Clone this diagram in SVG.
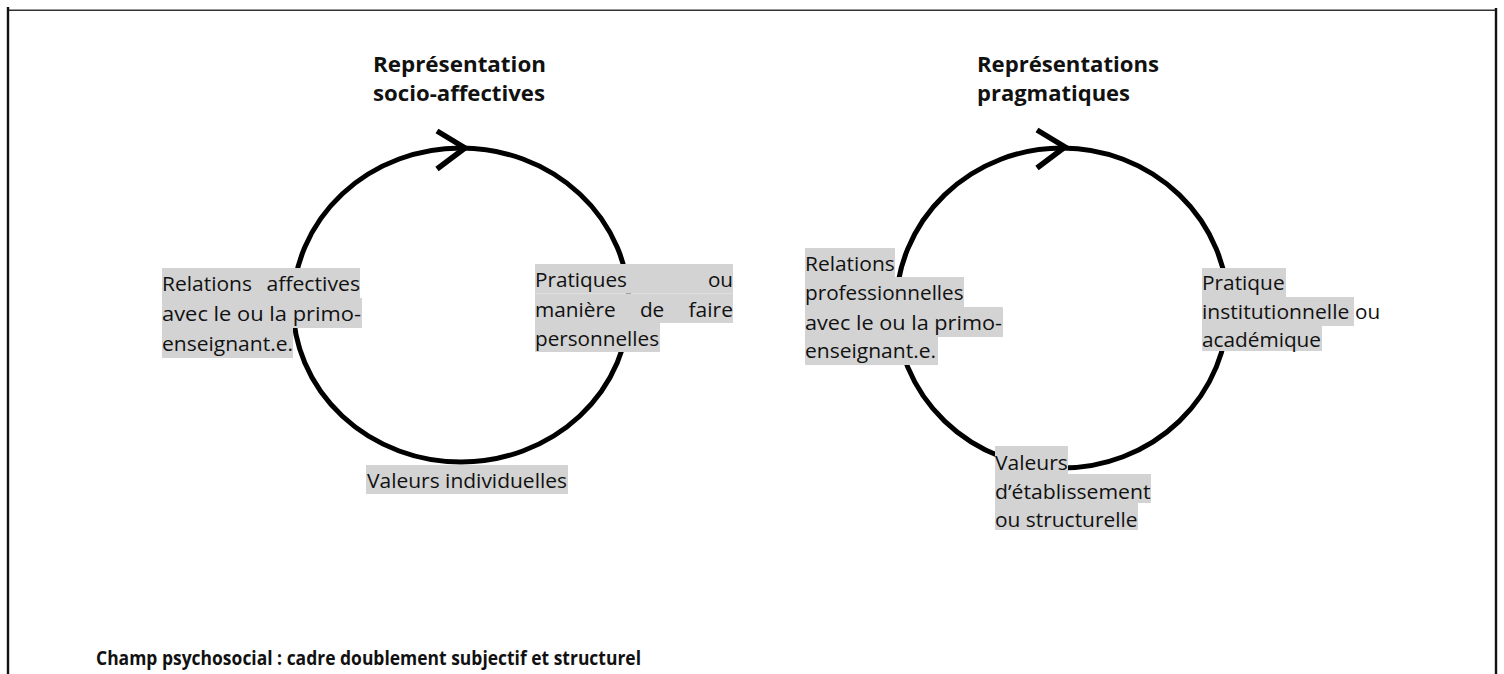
<svg xmlns="http://www.w3.org/2000/svg" width="1504" height="674" viewBox="0 0 1504 674">
<style>
.bg{fill:#ffffff}
.frame{stroke:#111;fill:none}
.cycle{fill:none;stroke:#000;stroke-width:5}
.chev{fill:none;stroke:#000;stroke-width:5.5;stroke-linejoin:miter;stroke-linecap:butt}
.hl{fill:#d3d3d3}
.lbl{font-family:"Open Sans","Liberation Sans",sans-serif;font-size:20.5px;fill:#111}
.ttl{font-family:"Open Sans","Liberation Sans",sans-serif;font-size:21.5px;font-weight:bold;fill:#111}
.foot{font-family:"Open Sans","Liberation Sans",sans-serif;font-size:20px;font-weight:bold;fill:#111}
</style>
<rect class="bg" x="0" y="0" width="1504" height="674"/>
<g id="frame">
  <line class="frame" x1="8" y1="10.2" x2="1496" y2="10.2" stroke-width="1.4" style="stroke:#333"/>
  <line class="frame" x1="8" y1="7" x2="8" y2="674" stroke-width="2.4"/>
  <line class="frame" x1="1496" y1="8" x2="1496" y2="674" stroke-width="2.4"/>
</g>
<g id="connectors">
  <ellipse class="cycle" cx="461" cy="305" rx="168" ry="157"/>
  <polyline class="chev" points="437,131 465,148 437,169"/>
  <ellipse class="cycle" cx="1062" cy="308" rx="166" ry="160"/>
  <polyline class="chev" points="1037,130 1065,147 1037,168"/>
</g>
<g id="title-socio-affectives">
  <text class="ttl" x="373" y="72" textLength="173" lengthAdjust="spacingAndGlyphs">Représentation</text>
  <text class="ttl" x="373" y="101" textLength="172" lengthAdjust="spacingAndGlyphs">socio-affectives</text>
</g>
<g id="title-pragmatiques">
  <text class="ttl" x="977" y="72" textLength="182" lengthAdjust="spacingAndGlyphs">Représentations</text>
  <text class="ttl" x="977" y="101" textLength="153" lengthAdjust="spacingAndGlyphs">pragmatiques</text>
</g>
<g id="relations-affectives">
  <rect class="hl" x="162" y="268" width="198" height="30"/>
  <rect class="hl" x="162" y="298" width="200" height="30"/>
  <rect class="hl" x="162" y="328" width="131" height="30"/>
  <text class="lbl" x="162" y="291" textLength="90" lengthAdjust="spacingAndGlyphs">Relations</text>
  <text class="lbl" x="266.4" y="291" textLength="93.6" lengthAdjust="spacingAndGlyphs">affectives</text>
  <text class="lbl" x="162" y="321" textLength="199" lengthAdjust="spacingAndGlyphs">avec le ou la primo-</text>
  <text class="lbl" x="162" y="351" textLength="131" lengthAdjust="spacingAndGlyphs">enseignant.e.</text>
</g>
<g id="pratiques-personnelles">
  <rect class="hl" x="535" y="264" width="198" height="29.5"/>
  <rect class="hl" x="535" y="293.5" width="198" height="29.5"/>
  <rect class="hl" x="535" y="323" width="125" height="29"/>
  <text class="lbl" x="535" y="287" textLength="92" lengthAdjust="spacingAndGlyphs">Pratiques</text>
  <text class="lbl" x="707.9" y="287" textLength="25.1" lengthAdjust="spacingAndGlyphs">ou</text>
  <text class="lbl" x="535" y="316.5" textLength="80.7" lengthAdjust="spacingAndGlyphs">manière</text>
  <text class="lbl" x="639.9" y="316.5" textLength="24.4" lengthAdjust="spacingAndGlyphs">de</text>
  <text class="lbl" x="688.5" y="316.5" textLength="44.5" lengthAdjust="spacingAndGlyphs">faire</text>
  <text class="lbl" x="535" y="346" textLength="124" lengthAdjust="spacingAndGlyphs">personnelles</text>
</g>
<g id="valeurs-individuelles">
  <rect class="hl" x="366" y="465" width="202" height="29"/>
  <text class="lbl" x="367" y="488" textLength="200" lengthAdjust="spacingAndGlyphs">Valeurs individuelles</text>
</g>
<g id="relations-professionnelles">
  <rect class="hl" x="805" y="248" width="90" height="29"/>
  <rect class="hl" x="805" y="277" width="159" height="30"/>
  <rect class="hl" x="805" y="307" width="198" height="30"/>
  <rect class="hl" x="805" y="337" width="133" height="28"/>
  <text class="lbl" x="805" y="271" textLength="89.8" lengthAdjust="spacingAndGlyphs">Relations</text>
  <text class="lbl" x="805" y="300" textLength="158.6" lengthAdjust="spacingAndGlyphs">professionnelles</text>
  <text class="lbl" x="805" y="330" textLength="197" lengthAdjust="spacingAndGlyphs">avec le ou la primo-</text>
  <text class="lbl" x="805" y="358" textLength="131" lengthAdjust="spacingAndGlyphs">enseignant.e.</text>
</g>
<g id="pratique-institutionnelle">
  <rect class="hl" x="1202" y="268" width="84" height="29"/>
  <rect class="hl" x="1202" y="297" width="152" height="29"/>
  <rect class="hl" x="1202" y="326" width="120" height="25"/>
  <text class="lbl" x="1202" y="290" textLength="82.6" lengthAdjust="spacingAndGlyphs">Pratique</text>
  <text class="lbl" x="1202" y="319" textLength="147.3" lengthAdjust="spacingAndGlyphs">institutionnelle</text>
  <text class="lbl" x="1355" y="319" textLength="25.1" lengthAdjust="spacingAndGlyphs">ou</text>
  <text class="lbl" x="1202" y="347" textLength="119" lengthAdjust="spacingAndGlyphs">académique</text>
</g>
<g id="valeurs-etablissement">
  <rect class="hl" x="995" y="446" width="73" height="28"/>
  <rect class="hl" x="995" y="474" width="156" height="29"/>
  <rect class="hl" x="995" y="503" width="143" height="27"/>
  <text class="lbl" x="995" y="470" textLength="72.9" lengthAdjust="spacingAndGlyphs">Valeurs</text>
  <text class="lbl" x="995" y="499" textLength="155.5" lengthAdjust="spacingAndGlyphs">d’établissement</text>
  <text class="lbl" x="995" y="527" textLength="142.5" lengthAdjust="spacingAndGlyphs">ou structurelle</text>
</g>
<g id="champ-psychosocial">
  <text class="foot" x="96" y="665" textLength="545" lengthAdjust="spacingAndGlyphs">Champ psychosocial : cadre doublement subjectif et structurel</text>
</g>
</svg>
